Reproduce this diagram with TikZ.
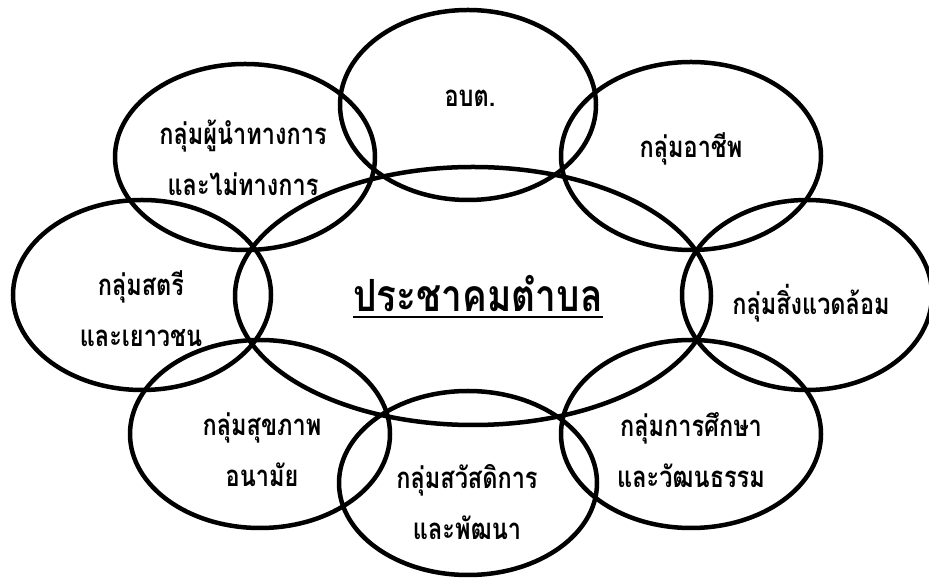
\documentclass[tikz,border=0pt]{standalone}
\usepackage{fontspec}
\newfontfamily\thaifont[Script=Thai]{Loma}
\newcommand\tallt[1]{\scalebox{1}[1.25]{#1}}
\tikzset{
  ring/.style={draw=black, line width=4.5pt},
  lbl/.style={font=\thaifont\bfseries\fontsize{23.5}{51}\selectfont, align=center, inner sep=0pt, anchor=center},
  title/.style={font=\thaifont\bfseries\fontsize{37}{44}\selectfont, inner sep=0pt, anchor=base}
}
\begin{document}
\begin{tikzpicture}[x=1pt,y=1pt]
\useasboundingbox (0,0) rectangle (929,578);
% ellipses (pixel coords, y flipped)
\draw[ring] (468,473) ellipse [x radius=128, y radius=95];
\draw[ring] (245,421) ellipse [x radius=130, y radius=93];
\draw[ring] (691,422) ellipse [x radius=130, y radius=94];
\draw[ring] (473,282) ellipse [x radius=238, y radius=129];
\draw[ring] (142,283) ellipse [x radius=129, y radius=95];
\draw[ring] (807,283) ellipse [x radius=125, y radius=95];
\draw[ring] (260,144) ellipse [x radius=130, y radius=94];
\draw[ring] (468,95) ellipse [x radius=129, y radius=92];
\draw[ring] (691,144) ellipse [x radius=130, y radius=94];
% labels
\node[lbl] (obt) at (470,480) {\tallt{อบต.}};
\node[lbl] (tl) at (243,420) {\tallt{กลุ่มผู้นำทางการ}\\\tallt{และไม่ทางการ}};
\node[lbl] (tr) at (691,429) {\tallt{กลุ่มอาชีพ}};
\node[lbl] (lf) at (141,269) {\tallt{กลุ่มสตรี}\\\tallt{และเยาวชน}};
\node[lbl] (rt) at (811,275) {\tallt{กลุ่มสิ่งแวดล้อม}};
\node[lbl] (bl) at (262,128) {\tallt{กลุ่มสุขภาพ}\\\tallt{อนามัย}};
\node[lbl] (bt) at (467,76) {\tallt{กลุ่มสวัสดิการ}\\\tallt{และพัฒนา}};
\node[lbl] (br) at (691,128) {\tallt{กลุ่มการศึกษา}\\\tallt{และวัฒนธรรม}};
\node[title] (ct) at (478,266) {\scalebox{1}[1.2]{ประชาคมตำบล}};
\draw[line width=2pt] ([yshift=-5pt]ct.base west) -- ([yshift=-5pt]ct.base east);
\end{tikzpicture}
\end{document}
